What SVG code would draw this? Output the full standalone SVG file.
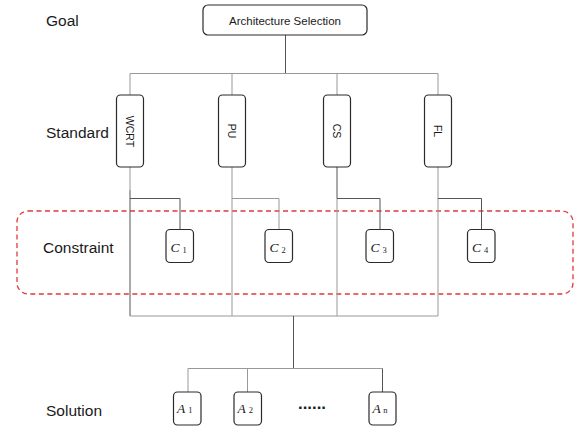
<svg xmlns="http://www.w3.org/2000/svg" width="584" height="430" viewBox="0 0 584 430">
<style>
.bg{fill:#ffffff}
.box{fill:#ffffff;stroke:#2a2a2a;stroke-width:1.2}
.dk{stroke:#555555;stroke-width:1;fill:none}
.lt{stroke:#999999;stroke-width:1;fill:none}
.lbl{font-family:"Liberation Sans",Arial,sans-serif;font-size:15.5px;fill:#1a1a1a}
.t{font-family:"Liberation Sans",Arial,sans-serif;fill:#1a1a1a}
.m{font-family:"Liberation Serif","Times New Roman",serif;font-style:italic;font-size:13.5px;fill:#1a1a1a}
.s{font-style:normal;font-size:8.5px}
.dash{fill:none;stroke:#e03a3a;stroke-width:1.3;stroke-dasharray:5 3.5}
</style>
<rect class="bg" x="0" y="0" width="584" height="430"/>
<g id="row-labels">
<text class="lbl" x="46" y="26">Goal</text>
<text class="lbl" x="46" y="137.5">Standard</text>
<text class="lbl" x="43" y="252.5">Constraint</text>
<text class="lbl" x="46" y="416">Solution</text>
</g>
<g id="constraint-region">
<rect class="dash" x="17" y="211" width="556" height="83" rx="11"/>
</g>
<g id="connectors">
<line class="dk" x1="285.5" y1="35" x2="285.5" y2="73.5"/>
<line class="lt" x1="130" y1="73.5" x2="438" y2="73.5"/>
<line class="lt" x1="130" y1="73.5" x2="130" y2="95"/>
<line class="lt" x1="232" y1="73.5" x2="232" y2="95"/>
<line class="lt" x1="337" y1="73.5" x2="337" y2="95"/>
<line class="lt" x1="438" y1="73.5" x2="438" y2="95"/>
<line class="lt" x1="130" y1="167" x2="130" y2="190"/>
<line class="dk" x1="130" y1="190" x2="130" y2="316"/>
<line class="lt" x1="232" y1="167" x2="232" y2="316"/>
<line class="dk" x1="337" y1="167" x2="337" y2="198.5"/>
<line class="lt" x1="337" y1="198.5" x2="337" y2="316"/>
<line class="lt" x1="438" y1="167" x2="438" y2="316"/>
<polyline class="dk" points="130,198.5 180,198.5 180,229.5"/>
<polyline class="lt" points="232,198.5 279,198.5 279,229.5"/>
<polyline class="dk" points="337,198.5 380,198.5 380,229.5"/>
<polyline class="dk" points="438,198.5 481.5,198.5 481.5,229.5"/>
<line class="lt" x1="130" y1="316" x2="438" y2="316"/>
<line class="dk" x1="293.5" y1="316" x2="293.5" y2="368.5"/>
<line class="lt" x1="188" y1="368.5" x2="382.5" y2="368.5"/>
<line class="lt" x1="188" y1="368.5" x2="188" y2="392"/>
<line class="lt" x1="247.5" y1="368.5" x2="247.5" y2="392"/>
<line class="dk" x1="382.5" y1="368.5" x2="382.5" y2="392"/>
</g>
<g id="goal">
<rect class="box" x="203" y="5" width="164" height="30" rx="5"/>
<text class="t" x="285" y="24.5" font-size="11.5" text-anchor="middle">Architecture Selection</text>
</g>
<g id="std-wcrt">
<rect class="box" x="116.5" y="95" width="27" height="72" rx="4"/>
<text class="t" font-size="10.5" text-anchor="middle" dominant-baseline="central" transform="translate(130,131.5) rotate(90)">WCRT</text>
</g>
<g id="std-pu">
<rect class="box" x="218.5" y="95" width="27" height="72" rx="4"/>
<text class="t" font-size="10.5" text-anchor="middle" dominant-baseline="central" transform="translate(232,131) rotate(90)">PU</text>
</g>
<g id="std-cs">
<rect class="box" x="323.5" y="95" width="27" height="72" rx="4"/>
<text class="t" font-size="10.5" text-anchor="middle" dominant-baseline="central" transform="translate(337,131) rotate(90)">CS</text>
</g>
<g id="std-fl">
<rect class="box" x="424.5" y="95" width="27" height="72" rx="4"/>
<text class="t" font-size="10.5" text-anchor="middle" dominant-baseline="central" transform="translate(438,131) rotate(90)">FL</text>
</g>
<g id="c1">
<rect class="box" x="166" y="229.5" width="27.5" height="33" rx="4"/>
<text class="m" x="170.5" y="251.5">C<tspan class="s" dx="3" dy="1">1</tspan></text>
</g>
<g id="c2">
<rect class="box" x="265" y="229.5" width="27.5" height="33" rx="4"/>
<text class="m" x="269.5" y="251.5">C<tspan class="s" dx="3" dy="1">2</tspan></text>
</g>
<g id="c3">
<rect class="box" x="366" y="229.5" width="27.5" height="33" rx="4"/>
<text class="m" x="370.5" y="251.5">C<tspan class="s" dx="3" dy="1">3</tspan></text>
</g>
<g id="c4">
<rect class="box" x="467.5" y="229.5" width="27.5" height="33" rx="4"/>
<text class="m" x="472" y="251.5">C<tspan class="s" dx="3" dy="1">4</tspan></text>
</g>
<g id="a1">
<rect class="box" x="173.5" y="392" width="27.5" height="33" rx="4"/>
<text class="m" x="177" y="413">A<tspan class="s" dx="3" dy="0">1</tspan></text>
</g>
<g id="a2">
<rect class="box" x="234" y="392" width="27.5" height="33" rx="4"/>
<text class="m" x="237.5" y="413">A<tspan class="s" dx="3" dy="0">2</tspan></text>
</g>
<g id="an">
<rect class="box" x="369" y="392" width="27" height="33" rx="4"/>
<text class="m" x="372.5" y="413">A<tspan class="s" dx="2.5" dy="0">n</tspan></text>
</g>
<g id="ellipsis">
<text class="t" x="312" y="409" font-size="16.8" font-weight="bold" text-anchor="middle">......</text>
</g>
</svg>
